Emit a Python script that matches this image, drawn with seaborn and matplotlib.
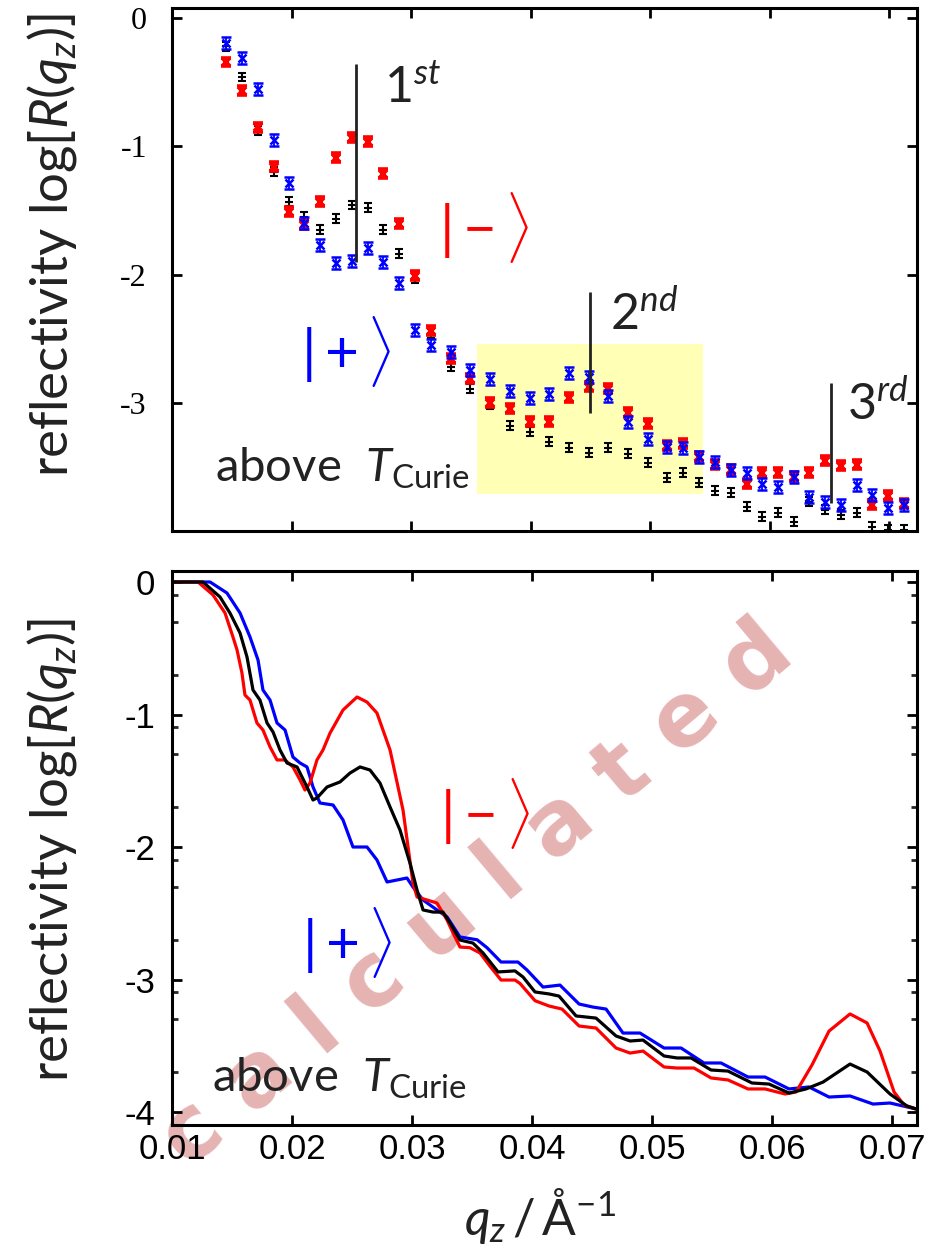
import numpy as np
import matplotlib
matplotlib.use('Agg')
import matplotlib.pyplot as plt
import matplotlib.patches as patches
import seaborn as sns

# ─────────────────────────────────────────────
# Measured reflectivity (top panel), log10 R
# ─────────────────────────────────────────────
q_meas = [0.0145, 0.01583, 0.01717, 0.0185, 0.01983, 0.02108, 0.02242, 0.02375, 0.02508, 0.02642,
          0.02767, 0.029, 0.03033, 0.03167, 0.03333, 0.03492, 0.03658, 0.03825, 0.03992, 0.04158,
          0.04325, 0.04492, 0.0465, 0.04817, 0.04983, 0.05142, 0.05275, 0.05408, 0.05542, 0.05675,
          0.05808, 0.05933, 0.06067, 0.062, 0.06333, 0.06467, 0.066, 0.06733, 0.06858, 0.06992, 0.07125]
meas_plus = [-0.195, -0.312, -0.553, -0.951, -1.286, -1.60, -1.769, -1.91, -1.894, -1.793,
             -1.902, -2.065, -2.432, -2.549, -2.603, -2.744, -2.814, -2.907, -2.962, -2.931,
             -2.767, -2.798, -2.946, -3.149, -3.281, -3.344, -3.352, -3.422, -3.461, -3.523,
             -3.546, -3.632, -3.655, -3.578, -3.733, -3.772, -3.796, -3.64, -3.718, -3.819, -3.796]
meas_minus = [-0.343, -0.569, -0.85, -1.161, -1.512, -1.613, -1.434, -1.091, -0.935, -0.966,
              -1.216, -1.606, -2.011, -2.44, -2.658, -2.814, -3.001, -3.048, -3.149, -3.149,
              -2.962, -2.876, -2.892, -3.079, -3.164, -3.336, -3.32, -3.422, -3.484, -3.523,
              -3.632, -3.546, -3.546, -3.578, -3.546, -3.453, -3.492, -3.484, -3.796, -3.726, -3.788]
meas_nonpol = [-0.22, -0.46, -0.88, -1.2, -1.434, -1.551, -1.652, -1.567, -1.458, -1.481,
               -1.652, -1.839, -2.03, -2.46, -2.72, -2.892, -3.016, -3.18, -3.227, -3.305,
               -3.352, -3.39, -3.352, -3.398, -3.468, -3.585, -3.546, -3.624, -3.687, -3.702,
               -3.811, -3.889, -3.858, -3.928, -3.772, -3.835, -3.874, -3.858, -3.967, -3.99, -3.99]
err_plus = 0.045
err_minus = 0.035
err_nonpol = 0.035

# Bragg orders marked in the top panel
order_q = [0.02542, 0.045, 0.06517]
order_top = [-0.359, -2.136, -2.845]
order_bottom = [-1.90, -3.08, -3.78]
order_labels = [r'$1^{st}$', r'$2^{nd}$', r'$3^{rd}$']
order_label_q = [0.02775, 0.04667, 0.0665]
order_label_y = [-0.662, -2.432, -3.133]

# highlighted region
box_q = [0.0355, 0.0544]
box_y = [-3.71, -2.54]

# ─────────────────────────────────────────────
# Calculated reflectivity (bottom panel)
# ─────────────────────────────────────────────
q_calc_minus = [0.0100, 0.01217, 0.01342, 0.01442, 0.01508, 0.01542, 0.01583, 0.01608, 0.0165, 0.01708,
                0.01758, 0.01817, 0.01875, 0.01942, 0.02008, 0.02067, 0.02108, 0.0215, 0.02208, 0.02258,
                0.02317, 0.02425, 0.02542, 0.02625, 0.02708, 0.02817, 0.02925, 0.03008, 0.03042, 0.03125,
                0.03208, 0.03292, 0.03342, 0.034, 0.03483, 0.03567, 0.0365, 0.03742, 0.03858, 0.039,
                0.04025, 0.04142, 0.0425, 0.04392, 0.04533, 0.047, 0.04817, 0.04925, 0.051, 0.05208,
                0.0535, 0.05492, 0.05633, 0.058, 0.05942, 0.06108, 0.062, 0.06333, 0.06475, 0.0665,
                0.06792, 0.069, 0.07017, 0.071, 0.0720]
calc_minus = [0, 0, -0.098, -0.234, -0.415, -0.513, -0.687, -0.853, -0.891, -1.064,
              -1.117, -1.245, -1.343, -1.343, -1.396, -1.494, -1.570, -1.517, -1.343, -1.268,
              -1.140, -0.966, -0.868, -0.906, -0.989, -1.268, -1.721, -2.272, -2.377, -2.400,
              -2.423, -2.551, -2.649, -2.755, -2.760, -2.800, -2.900, -3.004, -3.004, -3.030,
              -3.160, -3.200, -3.223, -3.351, -3.366, -3.517, -3.555, -3.540, -3.660, -3.668,
              -3.668, -3.743, -3.758, -3.826, -3.826, -3.864, -3.849, -3.645, -3.389, -3.260,
              -3.328, -3.540, -3.849, -3.947, -3.977]

q_calc_nonpol = [0.01, 0.01258, 0.0140, 0.01483, 0.01567, 0.01625, 0.01675, 0.01733, 0.01792, 0.01842,
                 0.019, 0.01958, 0.02042, 0.02125, 0.02175, 0.02208, 0.02292, 0.024, 0.02483, 0.02567,
                 0.0265, 0.02733, 0.02817, 0.029, 0.02983, 0.03042, 0.03092, 0.03175, 0.03258, 0.03317,
                 0.034, 0.03508, 0.03592, 0.03717, 0.03858, 0.03925, 0.04025, 0.04142, 0.04225, 0.04367,
                 0.04533, 0.047, 0.04817, 0.04925, 0.051, 0.05208, 0.05325, 0.05492, 0.05633, 0.05833,
                 0.05975, 0.06142, 0.06283, 0.06425, 0.0665, 0.06792, 0.06983, 0.07125, 0.0720]
calc_nonpol = [0, 0, -0.113, -0.234, -0.385, -0.566, -0.815, -0.891, -1.064, -1.132,
               -1.268, -1.366, -1.396, -1.547, -1.645, -1.630, -1.547, -1.509, -1.442, -1.396,
               -1.419, -1.517, -1.698, -1.872, -2.121, -2.325, -2.475, -2.491, -2.491, -2.574,
               -2.702, -2.725, -2.800, -2.943, -2.935, -2.981, -3.094, -3.109, -3.125, -3.275,
               -3.291, -3.426, -3.464, -3.457, -3.577, -3.592, -3.592, -3.683, -3.691, -3.781,
               -3.789, -3.857, -3.826, -3.774, -3.638, -3.698, -3.864, -3.955, -3.977]

q_calc_plus = [0.01, 0.01317, 0.01458, 0.01567, 0.0165, 0.01717, 0.01758, 0.01817, 0.01875, 0.01942,
               0.02008, 0.02067, 0.02125, 0.02175, 0.02233, 0.02342, 0.02425, 0.02508, 0.02625, 0.02708,
               0.02792, 0.02875, 0.02958, 0.03008, 0.03092, 0.03208, 0.03292, 0.034, 0.03542, 0.03625,
               0.03742, 0.03883, 0.03958, 0.04092, 0.04233, 0.04392, 0.04508, 0.04617, 0.04758, 0.049,
               0.051, 0.05242, 0.05433, 0.05575, 0.058, 0.05942, 0.06142, 0.06308, 0.06475, 0.0665,
               0.06842, 0.06983, 0.0720]
calc_plus = [0, 0, -0.083, -0.234, -0.415, -0.589, -0.815, -0.891, -1.064, -1.117,
             -1.321, -1.366, -1.396, -1.547, -1.668, -1.683, -1.796, -2.0, -2.0, -2.098,
             -2.264, -2.249, -2.234, -2.302, -2.400, -2.475, -2.528, -2.679, -2.700, -2.760,
             -2.868, -2.868, -2.928, -3.057, -3.042, -3.185, -3.208, -3.223, -3.404, -3.404,
             -3.517, -3.517, -3.630, -3.630, -3.736, -3.736, -3.826, -3.811, -3.887, -3.879,
             -3.940, -3.932, -3.977]

x_ticks = [0.01, 0.02, 0.03, 0.04, 0.05, 0.06, 0.07]
x_ticklabels = ['0.01', '0.02', '0.03', '0.04', '0.05', '0.06', '0.07']
y_ticks_top = [0, -1, -2, -3]
y_ticks_bottom = [0, -1, -2, -3, -4]

# ─────────────────────────────────────────────
# Style
# ─────────────────────────────────────────────
sns.set_theme(style='ticks')
plt.rcParams.update({
    'font.family': ['Lato', 'DejaVu Sans'],
    'mathtext.fontset': 'custom',
    'mathtext.rm': 'Lato',
    'mathtext.it': 'Lato:italic',
    'mathtext.bf': 'Lato:bold',
    'axes.unicode_minus': False,
    'axes.linewidth': 2.2,
    'axes.edgecolor': 'black',
})

RED, BLUE, BLACK = '#ff0000', '#0000ff', '#000000'
TXT = '#222222'

fig = plt.figure(figsize=(9.44, 12.5), dpi=100)
ax1 = fig.add_axes([0.1822, 0.5752, 0.7892, 0.4184])
ax2 = fig.add_axes([0.1822, 0.1, 0.7892, 0.4432])
for ax in (ax1, ax2):
    ax.patch.set_facecolor('none')

# ── top panel: measured ──
ax1.add_patch(patches.Rectangle((box_q[0], box_y[0]), box_q[1] - box_q[0], box_y[1] - box_y[0],
                                facecolor='#ffffb5', edgecolor='none', zorder=0))
ax1.errorbar(q_meas, meas_nonpol, yerr=err_nonpol, fmt='+', color=BLACK, ms=6, mew=1.5,
             elinewidth=1.3, capsize=3, capthick=1.3, zorder=3)
ax1.errorbar(q_meas, meas_minus, yerr=err_minus, fmt='x', color=RED, ms=6, mew=2.6,
             elinewidth=1.3, capsize=3.5, capthick=2, zorder=4)
ax1.errorbar(q_meas, meas_plus, yerr=err_plus, fmt='x', color=BLUE, ms=6, mew=1.8,
             elinewidth=1.3, capsize=3.5, capthick=2, zorder=5)

ax1.vlines(order_q, order_bottom, order_top, color=TXT, lw=2, zorder=6)
for xq, yq, lab in zip(order_label_q, order_label_y, order_labels):
    ax1.text(xq, yq, lab, fontsize=36, color=TXT, ha='left', va='baseline')

ax1.text(0.0361, -1.637, r'$|-\rangle$', color=RED, fontsize=42, ha='center', va='center')
ax1.text(0.02458, -2.60, r'$|+\rangle$', color=BLUE, fontsize=42, ha='center', va='center')
ax1.text(0.01358, -3.617, r'above  $T_{\mathrm{Curie}}$', color=TXT, fontsize=34,
         ha='left', va='baseline')

ax1.set_xlim(0.01017, 0.07233)
ax1.set_ylim(-4.0, 0.078)
ax1.set_xticks(x_ticks)
ax1.set_yticks(y_ticks_top)
ax1.set_yticklabels([str(t) for t in y_ticks_top], fontfamily='Liberation Serif', fontsize=23)
ax1.tick_params(direction='in', length=7, width=2, top=True, right=True,
                labelbottom=False, pad=18, colors='black')
ax1.set_ylabel(r'reflectivity $\log[R(q_z)]$', fontsize=38, color=TXT)
ax1.yaxis.set_label_coords(-0.161, 0.547)
ax1.yaxis.label.set_va('center')

# ── bottom panel: calculated ──
sns.lineplot(x=q_calc_plus, y=calc_plus, ax=ax2, color=BLUE, linewidth=2.3, sort=False, estimator=None)
sns.lineplot(x=q_calc_minus, y=calc_minus, ax=ax2, color=RED, linewidth=2.3, sort=False, estimator=None)
sns.lineplot(x=q_calc_nonpol, y=calc_nonpol, ax=ax2, color=BLACK, linewidth=2.3, sort=False, estimator=None)

ax2.text(0.0361, -1.75, r'$|-\rangle$', color=RED, fontsize=42, ha='center', va='center')
ax2.text(0.02458, -2.717, r'$|+\rangle$', color=BLUE, fontsize=42, ha='center', va='center')
ax2.text(0.01333, -3.845, r'above  $T_{\mathrm{Curie}}$', color=TXT, fontsize=34,
         ha='left', va='baseline')

ax2.set_xlim(0.01, 0.07208)
ax2.set_ylim(-4.098, 0.083)
ax2.set_xticks(x_ticks)
ax2.set_xticklabels(x_ticklabels, fontfamily='Liberation Sans', fontsize=25)
ax2.set_yticks(y_ticks_bottom)
ax2.set_yticklabels([str(t) for t in y_ticks_bottom], fontfamily='Liberation Sans', fontsize=25)
minor = [n + np.log10(f) for n in y_ticks_bottom for f in (0.8, 0.5, 0.2)]
ax2.set_yticks([m for m in minor if m > -4.098], minor=True)
ax2.tick_params(axis='both', which='major', direction='in', length=7, width=2,
                top=True, right=True, colors='black')
ax2.tick_params(axis='y', which='major', pad=12)
ax2.tick_params(axis='x', which='major', pad=6)
ax2.tick_params(axis='y', which='minor', direction='in', length=4, width=2, left=True, right=True)
ax2.set_ylabel(r'reflectivity $\log[R(q_z)]$', fontsize=38, color=TXT)
ax2.yaxis.set_label_coords(-0.161, 0.496)
ax2.yaxis.label.set_va('center')
ax2.set_xlabel(r'$q_z\,/\,\mathrm{\AA}^{-1}$', fontsize=36, color=TXT)
ax2.xaxis.set_label_coords(0.494, -0.165)
ax2.xaxis.label.set_va('center')

# watermark, drawn underneath both panels
fig.text(0.505, 0.283, 'c a l c u l a t e d', fontsize=64, fontweight='bold',
         fontfamily='DejaVu Sans', color='#e6b3b3', rotation=40, rotation_mode='anchor',
         ha='center', va='center', zorder=-1)

fig.savefig('out.png', dpi=100)
